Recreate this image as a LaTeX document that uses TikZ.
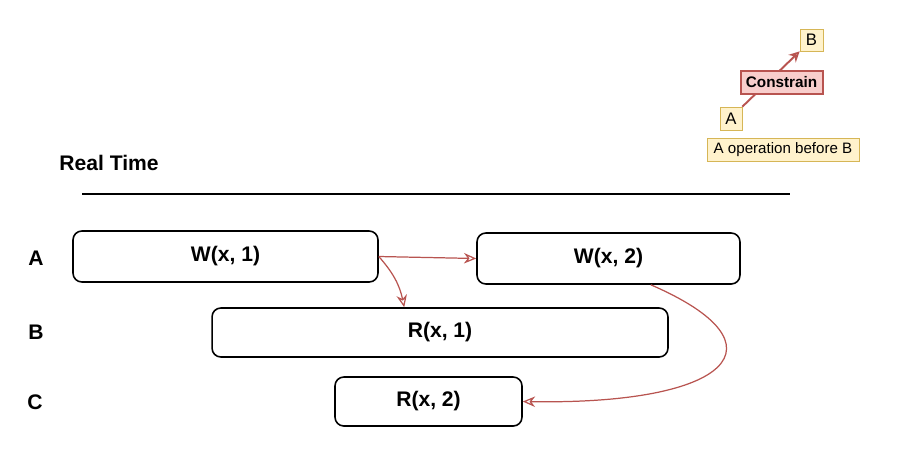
\documentclass[tikz,border=0pt]{standalone}
\usepackage{fontspec}
\setmainfont{Liberation Sans}
\usepackage{xcolor}
\usetikzlibrary{positioning,arrows.meta}

\definecolor{arrowred}{HTML}{B85450}
\definecolor{pinkfill}{HTML}{F8CECC}
\definecolor{notefill}{HTML}{FFF2CC}
\definecolor{noteline}{HTML}{D6B656}

\begin{document}
\begin{tikzpicture}[x=0.02cm, y=-0.02cm,
  opbox/.style={rectangle, rounded corners=5pt, draw=black, line width=0.9pt, font=\bfseries\fontsize{12}{14}\selectfont},
  rowlabel/.style={font=\bfseries\fontsize{12}{14}\selectfont},
  notebox/.style={rectangle, draw=noteline, fill=notefill, font=\fontsize{8.6}{10}\selectfont, inner sep=2pt, minimum height=0.46cm},
  orderarrow/.style={-{Stealth[open, length=7pt, width=6pt]}, draw=arrowred, line width=0.7pt}]
\useasboundingbox (0,0) rectangle (911,471);

\node (realtime) at (109,163) [font=\bfseries\fontsize{12}{14}\selectfont] {Real Time};
\coordinate (tl) at (82,194);
\coordinate (tr) at (790,194);
\draw[line width=0.6pt] (tl) -- (tr);

% operations
\node (wone) at (225.5,256.5) [opbox, minimum width=6.1cm, minimum height=1.02cm] {W(x, 1)};
\node (wtwo) at (608.5,258.5) [opbox, minimum width=5.26cm, minimum height=1.02cm] {W(x, 2)};
\node (rone) at (440,332.5) [opbox, minimum width=9.12cm, minimum height=0.98cm] {R(x, 1)};
\node (rtwo) at (428.5,401.5) [opbox, minimum width=3.74cm, minimum height=0.98cm] {R(x, 2)};

\node (laba) at (36,258) [rowlabel] {A};
\node (labb) at (36,332) [rowlabel] {B};
\node (labc) at (35,402) [rowlabel] {C};

\draw[orderarrow] (wone.east) -- (wtwo.west);
\draw[orderarrow] (wone.east) to[bend left=15] ([xshift=3.86cm]rone.north west);
\draw[orderarrow] ([xshift=-1.8cm]wtwo.south east) .. controls (790,345) and (730,405) .. (rtwo.east);

% legend
\node (lega) at (731,118.5) [notebox, minimum width=0.44cm, font=\fontsize{9.5}{11}\selectfont] {A};
\node (legb) at (811.5,40) [notebox, minimum width=0.46cm, minimum height=0.44cm, font=\fontsize{9.5}{11}\selectfont] {B};
\node (legnote) at (783,149.5) [notebox, minimum width=3.04cm] {A operation before B};
\draw[-{Stealth[open, length=6pt, width=6pt]}, draw=arrowred, line width=1.1pt] (lega.north east) -- (legb.south west)
  node[pos=0.44, xshift=0.28cm, rectangle, draw=arrowred, fill=pinkfill, font=\bfseries\fontsize{8.7}{10}\selectfont, inner sep=2pt, minimum width=1.64cm, minimum height=0.46cm] (constrain) {Constrain};
\end{tikzpicture}
\end{document}
